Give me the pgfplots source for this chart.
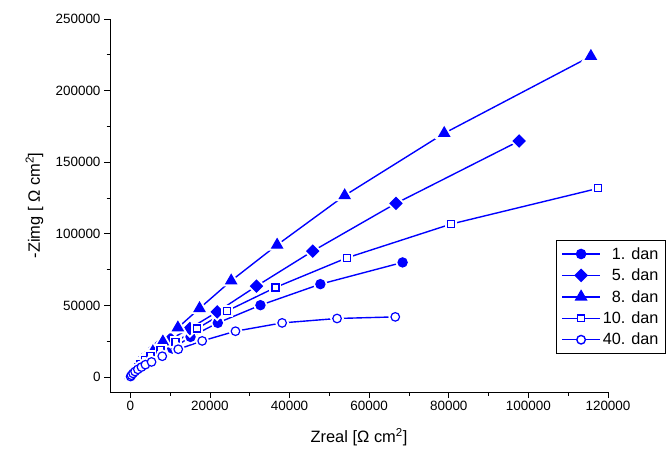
\documentclass[border=0pt]{standalone}
\usepackage{fontspec}
\setmainfont{Liberation Sans}
\usepackage{pgfplots}
\usepackage{pgfplotstable}
\pgfplotsset{compat=1.18}
\definecolor{ob}{RGB}{0,0,255}

\pgfplotstableread{
x y
80 200
330 1200
830 2600
1580 4700
2580 6800
3600 8900
5090 11700
7350 15200
10540 19860
15130 27970
21980 37760
32690 50140
47750 64820
68400 80000
}\dA
\pgfplotstableread{
x y
100 500
330 1900
580 3300
1080 5400
1580 7500
2330 10300
3340 13100
4840 16600
6850 20800
10110 26400
14950 33850
21830 45460
31690 63430
45820 87900
66740 121260
97680 164800
}\dB
\pgfplotstableread{
x y
100 1000
300 2300
800 3600
1300 5500
1800 7000
2600 9000
3340 11000
4340 13600
5670 17700
8180 24600
11950 34400
17390 47900
25340 67200
36880 92200
53850 126700
78860 170200
115700 224000
}\dC
\pgfplotstableread{
x y
100 800
580 2600
1080 4700
1830 6800
2580 8900
3600 11700
5090 14500
7600 18700
11370 24480
16810 33850
24340 46150
36460 62520
54440 83220
80600 106800
117570 131750
}\dD
\pgfplotstableread{
x y
80 300
300 1200
700 2500
1200 3800
1900 5300
2800 6900
3800 8600
5340 10490
8030 14480
12040 19370
18060 25180
26420 31960
38140 37760
51940 40840
66560 41960
}\dE

\pgfplotsset{
  ln/.style={ob, line width=1.4pt, no marks, forget plot},
  halo/.style={only marks, draw=white, fill=white, line width=5pt, forget plot},
  mk/.style={only marks, ob, line width=1.2pt, forget plot},
}

\begin{document}
\begin{tikzpicture}
\useasboundingbox (0,0) rectangle (670bp,452bp);
\begin{axis}[
  at={(110bp,60bp)}, anchor=south west,
  scale only axis, width=498bp, height=373bp,
  xmin=-5100, xmax=120000, ymin=-10500, ymax=250000,
  axis x line*=bottom, axis y line*=left,
  axis line style={-, line width=0.8pt, black},
  xtick={0,20000,...,120000}, ytick={0,50000,...,250000},
  minor x tick num=1, minor y tick num=1,
  tick align=outside,
  major tick length=6bp, minor tick length=3.5bp,
  every tick/.style={black, line width=0.8pt},
  scaled ticks=false,
  /pgf/number format/fixed,
  /pgf/number format/1000 sep={},
  /pgf/number format/assume math mode=true,
  tick label style={font=\fontsize{13.5}{15}\selectfont},
  label style={font=\fontsize{16.5}{19}\selectfont},
  xlabel={Zreal [Ω cm\textsuperscript{2}]},
  ylabel={-Zimg [ Ω cm\textsuperscript{2}]},
  xlabel style={at={(axis description cs:0.5,-0.1367)}, anchor=base},
  ylabel style={at={(axis description cs:-0.1406,0.5)}, anchor=base},
  legend cell align=right,
  legend style={at={(0.8956,0.4075)}, anchor=north west, draw=black, line width=0.8pt,
    font=\fontsize{16.3}{18}\selectfont, row sep=4.2pt, inner xsep=5pt, inner ysep=5pt},
  legend image code/.code={
    \draw[#1, mark repeat=2, mark phase=2] plot coordinates {(0bp,0bp) (19bp,0bp) (38bp,0bp)};
  },
]
% 1. dan
\addplot[ln] table {\dA};
\addplot[halo, mark=*, mark size=4.6pt] table {\dA};
\addplot[mk, mark=*, mark size=4.6pt, mark options={fill=ob}] table {\dA};
% 5. dan
\addplot[ln] table {\dB};
\addplot[halo, mark=square*, mark size=4.2pt, mark options={rotate=45}] table {\dB};
\addplot[mk, mark=square*, mark size=4.2pt, mark options={rotate=45, fill=ob}] table {\dB};
% 8. dan
\addplot[ln] table {\dC};
\addplot[halo, mark=triangle*, mark size=6.2pt] table {\dC};
\addplot[mk, mark=triangle*, mark size=6.2pt, mark options={fill=ob}] table {\dC};
% 10. dan
\addplot[ln] table {\dD};
\addplot[halo, mark=square*, mark size=3.5pt] table {\dD};
\addplot[mk, mark=square*, mark size=3.5pt, mark options={fill=white}] table {\dD};
% 40. dan
\addplot[ln] table {\dE};
\addplot[halo, mark=*, mark size=4.3pt] table {\dE};
\addplot[mk, mark=*, mark size=4.3pt, mark options={fill=white}] table {\dE};

\addlegendimage{ob, line width=1.4pt, mark=*, mark size=4.6pt, mark options={fill=ob}}
\addlegendentry{1. dan}
\addlegendimage{ob, line width=1.4pt, mark=square*, mark size=4.2pt, mark options={rotate=45, fill=ob}}
\addlegendentry{5. dan}
\addlegendimage{ob, line width=1.4pt, mark=triangle*, mark size=6.2pt, mark options={fill=ob}}
\addlegendentry{8. dan}
\addlegendimage{ob, line width=1.4pt, mark=square*, mark size=3.5pt, mark options={fill=white}}
\addlegendentry{10. dan}
\addlegendimage{ob, line width=1.4pt, mark=*, mark size=4.3pt, mark options={fill=white}}
\addlegendentry{40. dan}
\end{axis}
\end{tikzpicture}
\end{document}
